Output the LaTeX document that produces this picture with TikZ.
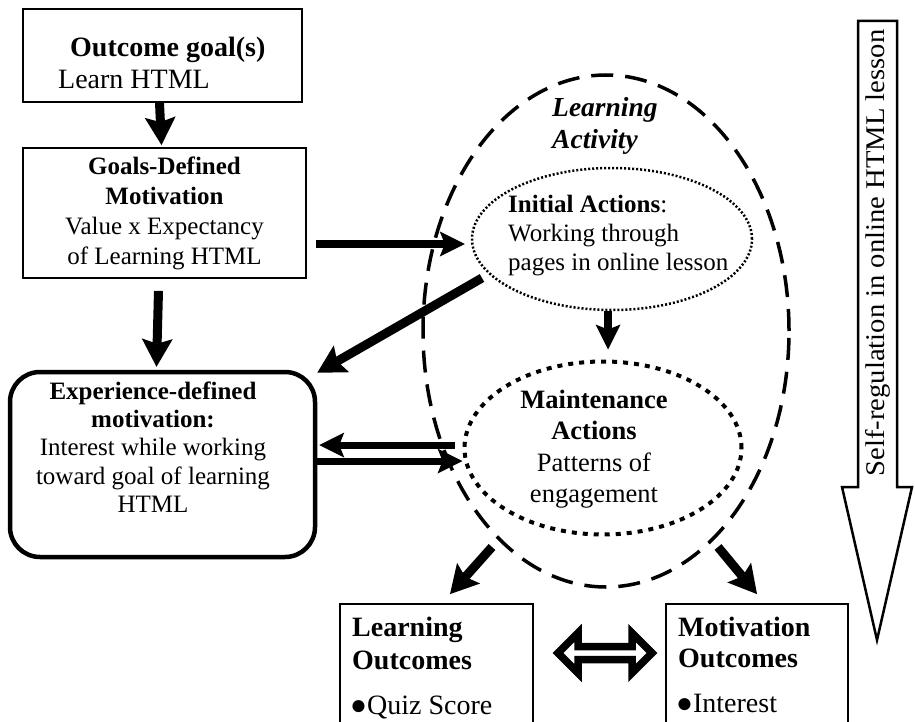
\documentclass[tikz,border=0pt]{standalone}
\usepackage{fontspec}
\setmainfont{Liberation Serif}
\usetikzlibrary{arrows.meta,shapes.geometric,calc}
\begin{document}
\begin{tikzpicture}[x=1pt,y=-1pt,
  every node/.style={font=\fontsize{25}{30}\selectfont, inner sep=0pt},
  bigtext/.style={font=\fontsize{28}{32}\selectfont},
  box/.style={draw, line width=1.8pt},
  arr/.style={line width=9pt, -{Stealth[length=28pt,width=31pt,inset=5pt,line width=0pt]}},
  arrsmall/.style={line width=7pt, -{Stealth[length=25pt,width=25pt,inset=5pt,line width=0pt]}},
  bigdash/.style={draw, line width=3.5pt, dash pattern=on 22pt off 12pt},
  finedots/.style={draw, line width=2.5pt, dash pattern=on 2pt off 2pt},
  coarsedots/.style={draw, line width=4pt, dash pattern=on 5pt off 6pt}]
\path[use as bounding box] (0,0) rectangle (915,722);
\clip (0,0) rectangle (915,722);

% learning activity ellipse
\node[ellipse, bigdash, minimum width=366pt, minimum height=512pt] (activity) at (606,331) {};
\node[anchor=west, align=left, font=\fontsize{27.5}{32}\selectfont\bfseries\itshape] (actT) at (552,126) {Learning\\Activity};

% boxes
\node[box, minimum width=279pt, minimum height=93pt] (outcome) at (162.5,55.5) {};
\node[anchor=base west, bigtext] (outcomeT1) at (70,57) {\bfseries Outcome goal(s)};
\node[anchor=base west, bigtext] (outcomeT2) at (58,89) {Learn HTML};

\node[box, minimum width=283pt, minimum height=130pt, align=center] (goals) at (164.5,213)
  {\textbf{Goals-Defined}\\\textbf{Motivation}\\Value x Expectancy\\of Learning HTML};

\node[draw, line width=4.5pt, rounded corners=30pt, minimum width=305pt, minimum height=185pt] (exp) at (162.5,464.5) {};
\node[align=center, font=\fontsize{25}{28.3}\selectfont] (expT) at (153,447)
  {\textbf{Experience-defined}\\\textbf{motivation:}\\Interest while working\\toward goal of learning\\HTML};

% inner ellipses
\node[ellipse, finedots, minimum width=280pt, minimum height=142pt] (initial) at (612,239) {};
\node[anchor=west, align=left, font=\fontsize{25}{29}\selectfont] (initT) at (508,236)
  {\textbf{Initial Actions}:\\Working through\\pages in online lesson};

\node[ellipse, coarsedots, minimum width=277pt, minimum height=173pt] (maint) at (603,448) {};
\node[align=center, font=\fontsize{26.5}{31.5}\selectfont] (maintT) at (594,449)
  {\textbf{Maintenance}\\\textbf{Actions}\\Patterns of\\engagement};

% outcome boxes
\node[box, minimum width=193pt, minimum height=140pt] (lo) at (436.5,674) {};
\node[anchor=base west, bigtext] (loT1) at (352,636) {\bfseries Learning};
\node[anchor=base west, bigtext] (loT2) at (352,669) {\bfseries Outcomes};
\node[anchor=base west, bigtext] (loT3) at (350,714) {●Quiz Score};

\node[box, minimum width=182pt, minimum height=140pt] (mo) at (757,674) {};
\node[anchor=base west, bigtext] (moT1) at (678,636) {\bfseries Motivation};
\node[anchor=base west, bigtext] (moT2) at (678,667) {\bfseries Outcomes};
\node[anchor=base west, bigtext] (moT3) at (676,712) {●Interest};

% connectors
\coordinate (diagS) at (482,278);
\coordinate (loS) at (492,547);
\coordinate (moS) at (718,547);

\draw[arr] ([xshift=-3pt]outcome.south) -- ([xshift=-3pt,yshift=2pt]goals.north);
\draw[arrsmall, line width=8pt] ([xshift=9pt,yshift=-5pt]goals.east |- initial.west) -- ([xshift=-6pt,yshift=-5pt]initial.west);
\draw[arr] ([xshift=-6pt,yshift=-12pt]goals.south) -- ([xshift=-6pt,yshift=3pt]exp.north);
\draw[arr] (diagS) -- ([yshift=-3pt]exp.north east);
\draw[arrsmall, line width=8pt] ([xshift=-4pt]initial.south) -- ([xshift=-4pt,yshift=10pt]initial.south |- maint.north);
\draw[arrsmall] ([xshift=-8pt,yshift=3pt]maint.west) -- ([xshift=2pt,yshift=3pt]exp.east |- maint.west);
\draw[arrsmall] ([yshift=-13pt]exp.east |- maint.west) -- ([yshift=-13pt]maint.west);
\draw[arr] (loS) -- ([xshift=13.5pt,yshift=9pt]lo.north);
\draw[arr] (moS) -- ([yshift=9pt]mo.north);

% hollow double arrow
\draw[line width=7.5pt, fill=white, line join=miter]
  (558,653) -- (578,633) -- (578,646.5) -- (632,646.5) -- (632,633) -- (652,653)
  -- (632,673) -- (632,659.5) -- (578,659.5) -- (578,673) -- cycle;

% self-regulation arrow
\draw[line width=2.5pt, line join=miter]
  (858,21) -- (897,21) -- (897,487) -- (912,487) -- (877,640) -- (842,487) -- (858,487) -- cycle;
\node[rotate=90, font=\fontsize{27}{30}\selectfont] (selfreg) at (877.5,253) {\scalebox{1.06}[1]{Self-regulation in online HTML lesson}};
\end{tikzpicture}
\end{document}
